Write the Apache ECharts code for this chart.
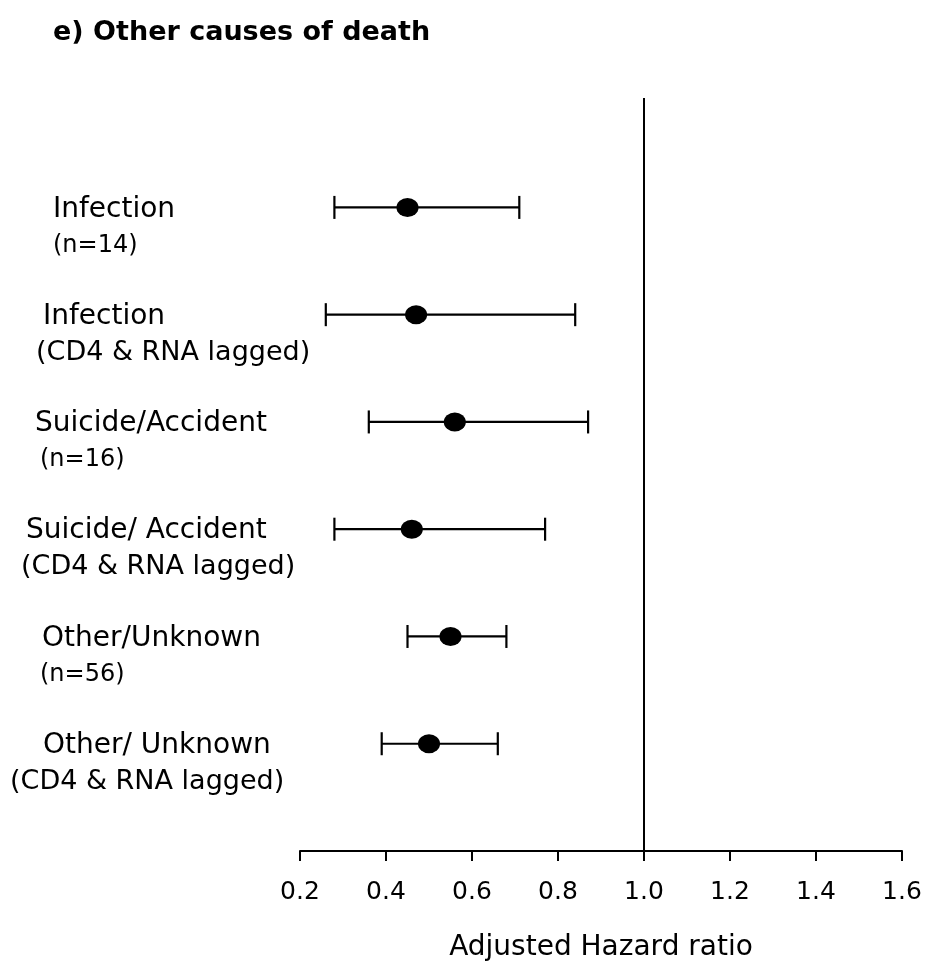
<!DOCTYPE html>
<html>
<head>
<meta charset="utf-8">
<script src="https://cdn.jsdelivr.net/npm/echarts@6/dist/echarts.min.js"></script>
<style>
html,body{margin:0;padding:0;background:#fff;}
#chart{width:945px;height:973px;}
</style>
</head>
<body>
<div id="chart"></div>
<script>
// ---- data ----
var mainLabels = ['Infection', 'Infection', 'Suicide/Accident', 'Suicide/ Accident', 'Other/Unknown', 'Other/ Unknown'];
var subLabels = ['(n=14)', '(CD4 & RNA lagged)', '(n=16)', '(CD4 & RNA lagged)', '(n=56)', '(CD4 & RNA lagged)'];
var hazardRatio = [0.45, 0.47, 0.56, 0.46, 0.55, 0.50];
var ciLower = [0.28, 0.26, 0.36, 0.28, 0.45, 0.39];
var ciUpper = [0.71, 0.84, 0.87, 0.77, 0.68, 0.66];
var xTicks = [0.2, 0.4, 0.6, 0.8, 1.0, 1.2, 1.4, 1.6];
var referenceValue = 1.0;
var titleText = 'e) Other causes of death';
var xAxisName = 'Adjusted Hazard ratio';

// ---- layout (not data) ----
var mainLabelX = [53, 43, 35, 26, 42, 43];
var subLabelX = [53, 36, 40, 21, 40, 10];
var subLabelSize = [24, 27, 24, 27, 24, 27];

var FONT = 'DejaVu Sans';
var rows = hazardRatio.map(function (v, i) { return i + 1; });
var pointData = hazardRatio.map(function (v, i) { return [v, rows[i]]; });
var ciData = hazardRatio.map(function (v, i) { return [ciLower[i], ciUpper[i], rows[i]]; });

var chart = echarts.init(document.getElementById('chart'), null, {renderer: 'canvas'});

var option = {
  animation: false,
  backgroundColor: '#fff',
  title: {
    text: titleText,
    left: 48,
    top: 13,
    padding: 5,
    textStyle: {fontFamily: FONT, fontWeight: 'bold', fontSize: 27, color: '#000', lineHeight: 30}
  },
  grid: {left: 300, right: 43, top: 98, bottom: 122, containLabel: false},
  xAxis: {
    type: 'value',
    min: xTicks[0],
    max: xTicks[xTicks.length - 1],
    interval: 0.2,
    position: 'bottom',
    name: xAxisName,
    nameLocation: 'middle',
    nameGap: 83,
    nameTextStyle: {fontFamily: FONT, fontSize: 28, color: '#000'},
    axisLine: {show: true, onZero: false, lineStyle: {color: '#000', width: 2}},
    axisTick: {show: true, inside: false, length: 10, lineStyle: {color: '#000', width: 2}},
    axisLabel: {
      fontFamily: FONT, fontSize: 25, color: '#000', margin: 29,
      formatter: function (v) { return v.toFixed(1); }
    },
    splitLine: {show: false}
  },
  yAxis: {
    type: 'value',
    inverse: true,
    min: -0.02,
    max: 7.0,
    show: false,
    splitLine: {show: false}
  },
  series: [
    {
      type: 'custom',
      name: 'ci',
      data: ciData,
      encode: {x: [0, 1], y: 2},
      renderItem: function (params, api) {
        var lo = api.coord([api.value(0), api.value(2)]);
        var hi = api.coord([api.value(1), api.value(2)]);
        var h = 11.5;
        var style = {stroke: '#000', lineWidth: 2.2};
        return {
          type: 'group',
          children: [
            {type: 'line', shape: {x1: lo[0], y1: lo[1], x2: hi[0], y2: hi[1]}, style: style},
            {type: 'line', shape: {x1: lo[0], y1: lo[1] - h, x2: lo[0], y2: lo[1] + h}, style: style},
            {type: 'line', shape: {x1: hi[0], y1: hi[1] - h, x2: hi[0], y2: hi[1] + h}, style: style}
          ]
        };
      },
      markLine: {
        silent: true,
        symbol: ['none', 'none'],
        label: {show: false},
        lineStyle: {color: '#000', width: 2, type: 'solid'},
        data: [{xAxis: referenceValue}]
      },
      z: 2
    },
    {
      type: 'scatter',
      name: 'HR',
      data: pointData,
      symbol: 'circle',
      symbolSize: [22, 19],
      itemStyle: {color: '#000', opacity: 1},
      z: 3
    }
  ]
};
chart.setOption(option);

// row labels placed at the rows' pixel positions from the y scale
var graphics = [];
rows.forEach(function (r, i) {
  var y = chart.convertToPixel({gridIndex: 0}, [referenceValue, r])[1];
  graphics.push({
    type: 'text', x: mainLabelX[i], y: y + 2,
    style: {text: mainLabels[i], font: '28px "' + FONT + '"', fill: '#000', align: 'left', verticalAlign: 'middle'}
  });
  graphics.push({
    type: 'text', x: subLabelX[i], y: y + 38,
    style: {text: subLabels[i], font: subLabelSize[i] + 'px "' + FONT + '"', fill: '#000', align: 'left', verticalAlign: 'middle'}
  });
});
chart.setOption({graphic: graphics});
</script>
</body>
</html>
